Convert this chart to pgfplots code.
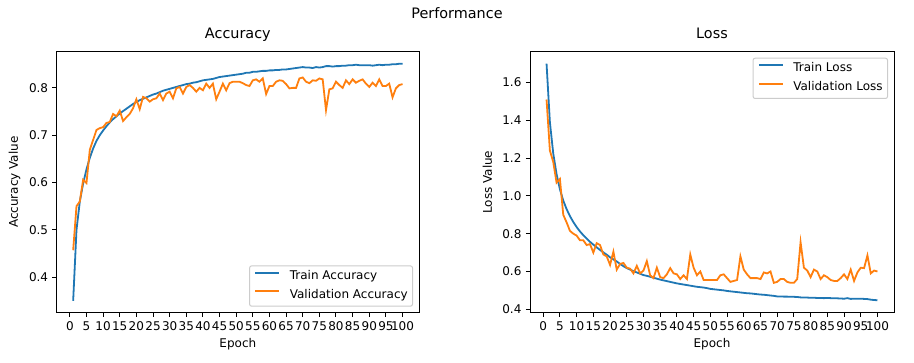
\documentclass[border=0pt]{standalone}
\usepackage{pgfplots}
\usepackage{pgfplotstable}
\pgfplotsset{compat=1.18}
\usepackage{fontspec}
\setmainfont{DejaVu Sans}
\definecolor{C0}{HTML}{1F77B4}
\definecolor{C1}{HTML}{FF7F0E}
\pgfplotstableread{
ep ta va tl vl
1 0.350 0.457 1.700 1.510
2 0.500 0.550 1.390 1.240
3 0.560 0.560 1.225 1.180
4 0.598 0.606 1.115 1.070
5 0.628 0.599 1.035 1.090
6 0.652 0.669 0.975 0.900
7 0.672 0.690 0.930 0.860
8 0.688 0.711 0.893 0.815
9 0.700 0.715 0.862 0.800
10 0.710 0.717 0.835 0.790
11 0.719 0.726 0.812 0.765
12 0.727 0.728 0.792 0.765
13 0.734 0.745 0.774 0.740
14 0.740 0.740 0.757 0.745
15 0.746 0.752 0.742 0.700
16 0.751 0.730 0.728 0.750
17 0.756 0.738 0.714 0.740
18 0.761 0.745 0.701 0.690
19 0.766 0.757 0.689 0.680
20 0.770 0.776 0.675 0.635
21 0.774 0.755 0.664 0.705
22 0.777 0.781 0.653 0.610
23 0.780 0.778 0.640 0.640
24 0.783 0.771 0.628 0.645
25 0.786 0.776 0.618 0.620
26 0.788 0.778 0.610 0.615
27 0.791 0.788 0.602 0.590
28 0.794 0.774 0.595 0.630
29 0.796 0.788 0.588 0.590
30 0.798 0.792 0.581 0.605
31 0.800 0.778 0.577 0.655
32 0.802 0.799 0.572 0.580
33 0.804 0.802 0.567 0.565
34 0.806 0.788 0.562 0.620
35 0.808 0.802 0.557 0.570
36 0.809 0.806 0.553 0.565
37 0.811 0.800 0.549 0.585
38 0.812 0.792 0.545 0.618
39 0.814 0.800 0.541 0.590
40 0.816 0.795 0.537 0.585
41 0.817 0.809 0.534 0.560
42 0.818 0.800 0.531 0.580
43 0.819 0.809 0.528 0.560
44 0.821 0.776 0.525 0.690
45 0.823 0.792 0.522 0.620
46 0.824 0.809 0.519 0.580
47 0.825 0.795 0.517 0.600
48 0.826 0.810 0.515 0.555
49 0.827 0.813 0.512 0.555
50 0.828 0.813 0.508 0.555
51 0.829 0.813 0.506 0.555
52 0.830 0.810 0.504 0.555
53 0.832 0.806 0.502 0.580
54 0.832 0.804 0.500 0.585
55 0.834 0.816 0.497 0.565
56 0.834 0.818 0.495 0.545
57 0.835 0.813 0.493 0.550
58 0.836 0.820 0.491 0.555
59 0.836 0.787 0.489 0.680
60 0.837 0.804 0.487 0.610
61 0.837 0.804 0.485 0.585
62 0.838 0.813 0.484 0.565
63 0.838 0.816 0.482 0.565
64 0.839 0.815 0.480 0.565
65 0.839 0.808 0.478 0.560
66 0.840 0.799 0.477 0.595
67 0.841 0.800 0.475 0.590
68 0.842 0.800 0.473 0.600
69 0.843 0.820 0.471 0.540
70 0.844 0.822 0.468 0.545
71 0.843 0.813 0.468 0.560
72 0.843 0.810 0.467 0.560
73 0.842 0.816 0.467 0.545
74 0.844 0.815 0.466 0.540
75 0.843 0.820 0.466 0.540
76 0.844 0.818 0.465 0.560
77 0.846 0.753 0.463 0.755
78 0.846 0.797 0.462 0.620
79 0.845 0.799 0.462 0.605
80 0.846 0.813 0.461 0.570
81 0.846 0.806 0.461 0.610
82 0.847 0.800 0.460 0.600
83 0.847 0.816 0.460 0.560
84 0.848 0.808 0.459 0.580
85 0.848 0.818 0.460 0.570
86 0.849 0.811 0.459 0.555
87 0.848 0.815 0.458 0.550
88 0.848 0.818 0.458 0.550
89 0.848 0.809 0.457 0.565
90 0.848 0.802 0.456 0.585
91 0.847 0.811 0.459 0.560
92 0.848 0.804 0.455 0.610
93 0.849 0.818 0.456 0.550
94 0.848 0.804 0.456 0.595
95 0.849 0.804 0.456 0.620
96 0.849 0.809 0.455 0.618
97 0.850 0.780 0.454 0.685
98 0.850 0.799 0.451 0.590
99 0.851 0.806 0.449 0.605
100 0.851 0.808 0.448 0.600
}\perf
\pgfplotsset{
  mpl/.style={
    scale only axis,
    height=261pt,
    xmin=-3.95, xmax=104.95,
    xtick={0,5,...,100},
    axis line style={black, line width=1pt},
    tick align=outside,
    xtick pos=bottom, ytick pos=left,
    major tick length=4.2pt,
    tick style={black, line width=1pt},
    /pgf/number format/assume math mode=true,
    tick label style={font=\fontsize{12}{14}\selectfont, inner sep=0pt},
    xticklabel style={anchor=north, yshift=-4.2pt},
    yticklabel style={anchor=east, xshift=-4.2pt,
      /pgf/number format/.cd, fixed, fixed zerofill, precision=1},
    xticklabel style={/pgf/number format/.cd, fixed, precision=0},
    scaled y ticks=false,
    label style={font=\fontsize{12}{14}\selectfont},
    xlabel style={at={(axis description cs:0.5,-0.12)}, anchor=center},
    title style={font=\fontsize{14.4}{16}\selectfont, at={(axis description cs:0.5,1)}, anchor=base, yshift=7.2pt},
    legend cell align=left,
    legend image code/.code={\draw[#1, line width=1.8pt] (0pt,4pt) -- (24pt,4pt);},
    legend style={draw=black!20, line width=1pt, rounded corners=2pt, fill=white, fill opacity=0.8, text opacity=1,
      font=\fontsize{12}{14}\selectfont, inner xsep=4.8pt, inner ysep=4.8pt,
      nodes={inner sep=0pt, text height=9pt, text depth=3pt},
      column sep=9.6pt, row sep=6.7pt},
  }
}
\begin{document}
\begin{tikzpicture}
\useasboundingbox (0,0) rectangle (914pt,363pt);
\node[anchor=north, font=\fontsize{14.4}{16}\selectfont, inner sep=0pt] at (457pt,356pt) {Performance};
\begin{axis}[mpl,
  at={(56.7pt,50.3pt)}, anchor=south west, width=362.3pt,
  ymin=0.325, ymax=0.8765,
  ytick={0.4,0.5,0.6,0.7,0.8},
  title={Accuracy}, xlabel={Epoch}, ylabel={Accuracy Value},
  ylabel style={at={(axis description cs:-0.116,0.5)}, anchor=center},
  legend style={at={(axis description cs:1,0)}, anchor=south east, xshift=-6pt, yshift=6pt},
]
\addplot[C0, line width=1.8pt] table[x=ep, y=ta] {\perf};
\addlegendentry{Train Accuracy}
\addplot[C1, line width=1.8pt] table[x=ep, y=va] {\perf};
\addlegendentry{Validation Accuracy}
\end{axis}
\begin{axis}[mpl,
  at={(530pt,50.3pt)}, anchor=south west, width=364pt,
  ymin=0.382, ymax=1.763,
  ytick={0.4,0.6,0.8,1.0,1.2,1.4,1.6},
  title={Loss}, xlabel={Epoch}, ylabel={Loss Value},
  ylabel style={at={(axis description cs:-0.117,0.5)}, anchor=center},
  legend style={at={(axis description cs:1,1)}, anchor=north east, xshift=-6pt, yshift=-6pt},
]
\addplot[C0, line width=1.8pt] table[x=ep, y=tl] {\perf};
\addlegendentry{Train Loss}
\addplot[C1, line width=1.8pt] table[x=ep, y=vl] {\perf};
\addlegendentry{Validation Loss}
\end{axis}
\end{tikzpicture}
\end{document}
